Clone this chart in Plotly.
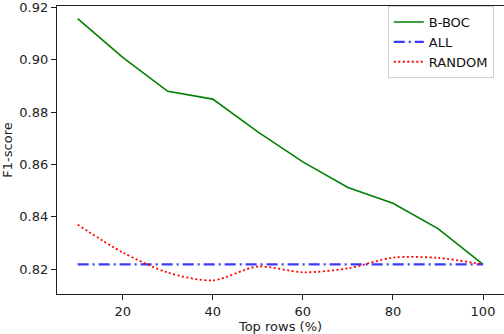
import plotly.graph_objects as go

top_rows = [10, 20, 30, 40, 50, 60, 70, 80, 90, 100]
bboc = [0.9158, 0.9010, 0.8880, 0.8850, 0.8725, 0.8610, 0.8512, 0.8452, 0.8355, 0.8218]
all_rows = [0.8218] * len(top_rows)
random_rows = [0.8370, 0.8264, 0.8187, 0.8157, 0.8210, 0.8188, 0.8203, 0.8244, 0.8243, 0.8218]

x_ticks = [20, 40, 60, 80, 100]
y_ticks = [0.82, 0.84, 0.86, 0.88, 0.90, 0.92]

fig = go.Figure()
fig.add_trace(go.Scatter(x=top_rows, y=bboc, mode='lines', name='B-BOC',
                         line=dict(color='#008000', width=1.6)))
fig.add_trace(go.Scatter(x=top_rows, y=all_rows, mode='lines', name='ALL',
                         line=dict(color='#3a3aff', width=2.2, dash='11px,4px,2px,4px')))
fig.add_trace(go.Scatter(x=top_rows, y=random_rows, mode='lines', name='RANDOM',
                         line=dict(color='#ff0000', width=1.8, dash='2px,2.5px',
                                   shape='spline', smoothing=0.8)))

axis_font = dict(family='DejaVu Sans', size=13, color='#222')
fig.update_layout(
    width=504, height=334,
    margin=dict(l=57, r=0, t=6, b=40),
    plot_bgcolor='white', paper_bgcolor='white',
    font=axis_font,
    showlegend=True,
    legend=dict(x=0.74, y=1.0, xanchor='left', yanchor='top',
                bordercolor='#d0d0d0', borderwidth=1, bgcolor='white',
                font=dict(family='DejaVu Sans', size=13, color='#111'),
                tracegroupgap=0, itemwidth=30),
    xaxis=dict(range=[5.41, 104.66], tickvals=x_ticks, showgrid=False, zeroline=False,
               showline=True, linecolor='#222', linewidth=1.2, mirror=True,
               ticks='outside', ticklen=5, tickcolor='#222',
               title=dict(text='Top rows (%)', standoff=4, font=axis_font)),
    yaxis=dict(range=[0.8105, 0.9206], tickvals=y_ticks, tickformat='.2f',
               showgrid=False, zeroline=False,
               showline=True, linecolor='#222', linewidth=1.2,
               ticks='outside', ticklen=5, tickcolor='#222',
               title=dict(text='F1-score', standoff=4, font=axis_font)),
)

fig.write_html('out.html', config={'displayModeBar': False},
               post_script="document.body.style.margin='0';")
